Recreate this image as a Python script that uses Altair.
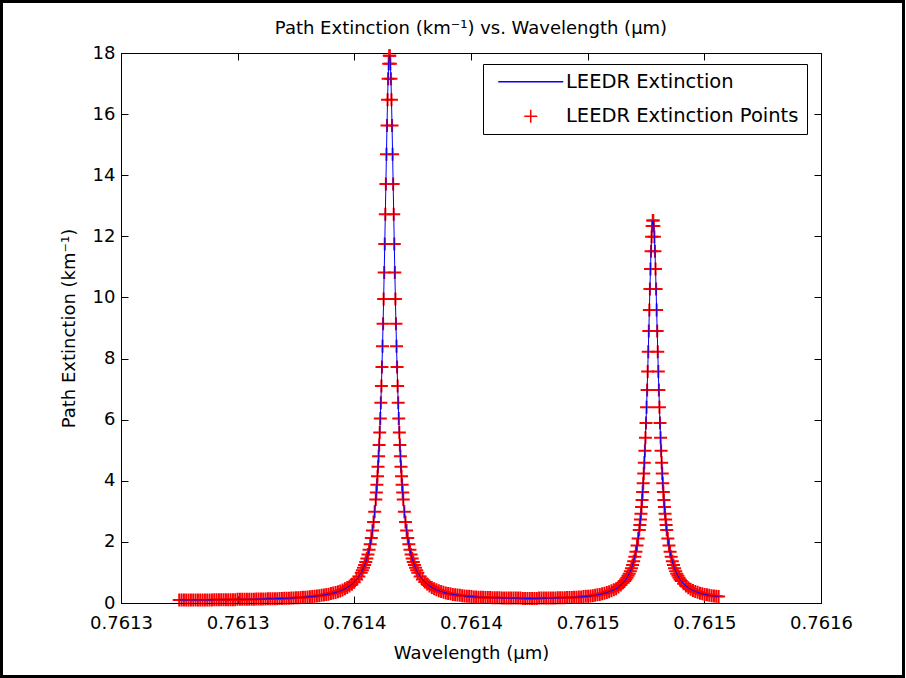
import altair as alt
import pandas as pd

FONT = "DejaVu Sans"

# ---------------- data (wavelength in micrometres, extinction in 1/km) ----------------
left_tail_wl = [
    0.76132496, 0.76132596, 0.76132696, 0.76132796, 0.76132896, 0.76132996, 0.76133096, 0.76133196, 0.76133296, 0.76133396,
    0.76133496, 0.76133596, 0.76133696, 0.76133796, 0.76133896, 0.76133996, 0.76134096, 0.76134196, 0.76134296, 0.76134396,
    0.76134496, 0.76134596, 0.76134696, 0.76134796, 0.76134896, 0.76134996, 0.76135096, 0.76135196, 0.76135296, 0.76135396,
    0.76135496, 0.76135596, 0.76135696, 0.76135796, 0.76135896, 0.76135996, 0.76136096, 0.76136196, 0.76136296, 0.76136396,
    0.76136496, 0.76136596, 0.76136696, 0.76136796, 0.76136896, 0.76136996, 0.76137096, 0.76137196, 0.76137296, 0.76137396,
    0.76137496, 0.76137596, 0.76137696, 0.76137796, 0.76137896, 0.76137996, 0.76138096, 0.76138196, 0.76138296, 0.76138396,
    0.76138496, 0.76138596, 0.76138696, 0.76138796, 0.76138896, 0.76138996, 0.76139096, 0.76139196, 0.76139296, 0.76139396,
    0.76139496, 0.76139596, 0.76139696, 0.76139796, 0.76139896, 0.76139996, 0.76140096, 0.76140196,
]
left_tail_ext = [
    0.10, 0.10, 0.10, 0.10, 0.10, 0.10, 0.10, 0.10, 0.10, 0.10,
    0.10, 0.10, 0.10, 0.10, 0.10, 0.11, 0.11, 0.11, 0.11, 0.11,
    0.11, 0.11, 0.11, 0.11, 0.11, 0.12, 0.12, 0.12, 0.12, 0.12,
    0.12, 0.12, 0.12, 0.13, 0.13, 0.13, 0.13, 0.13, 0.14, 0.14,
    0.140, 0.141, 0.143, 0.146, 0.149, 0.153, 0.155, 0.158, 0.162, 0.166,
    0.171, 0.175, 0.180, 0.185, 0.191, 0.199, 0.205, 0.213, 0.221, 0.230,
    0.240, 0.250, 0.262, 0.275, 0.290, 0.307, 0.325, 0.345, 0.369, 0.396,
    0.428, 0.463, 0.506, 0.554, 0.613, 0.682, 0.767, 0.869,
]

p1_left_wl = [0.76140296, 0.76140344, 0.76140392, 0.76140440, 0.76140488, 0.76140536, 0.76140584,
              0.76140632, 0.76140680, 0.76140728, 0.76140776, 0.76140824, 0.76140872]
p1_left_ext = [0.99, 1.07, 1.15, 1.24, 1.34, 1.46, 1.59, 1.74, 1.92, 2.13, 2.37, 2.65, 2.99]

p1_core_wl = [
    0.76140920, 0.76140944, 0.76140968, 0.76140992, 0.76141016, 0.76141040, 0.76141064, 0.76141088, 0.76141112, 0.76141136,
    0.76141160, 0.76141184, 0.76141208, 0.76141232, 0.76141256, 0.76141280, 0.76141304, 0.76141328, 0.76141352, 0.76141376,
    0.76141400, 0.76141424, 0.76141448, 0.76141472, 0.76141496, 0.76141520, 0.76141544, 0.76141568, 0.76141592, 0.76141616,
    0.76141640, 0.76141664, 0.76141688, 0.76141712, 0.76141736, 0.76141760, 0.76141784, 0.76141808, 0.76141832, 0.76141856,
    0.76141880, 0.76141904, 0.76141928, 0.76141952, 0.76141976, 0.76142000, 0.76142024, 0.76142048, 0.76142072, 0.76142096,
]
p1_core_ext = [
    3.39, 3.62, 3.87, 4.15, 4.46, 4.80, 5.17, 5.58, 6.04, 6.55,
    7.10, 7.72, 8.40, 9.14, 9.95, 10.82, 11.75, 12.72, 13.71, 14.69,
    15.63, 16.47, 17.16, 17.65, 17.91, 17.91, 17.65, 17.16, 16.47, 15.63,
    14.69, 13.71, 12.72, 11.75, 10.82, 9.95, 9.14, 8.40, 7.72, 7.10,
    6.55, 6.04, 5.58, 5.17, 4.80, 4.46, 4.15, 3.87, 3.62, 3.39,
]

p1_right_wl = [0.76142144, 0.76142192, 0.76142240, 0.76142288, 0.76142336, 0.76142384, 0.76142432,
               0.76142480, 0.76142528, 0.76142576, 0.76142624, 0.76142672, 0.76142720]
p1_right_ext = [2.99, 2.65, 2.37, 2.13, 1.92, 1.74, 1.59, 1.46, 1.34, 1.24, 1.15, 1.07, 0.99]

mid_wl = [
    0.76142820, 0.76142920, 0.76143020, 0.76143120, 0.76143220, 0.76143320, 0.76143420, 0.76143520, 0.76143620, 0.76143720,
    0.76143820, 0.76143920, 0.76144020, 0.76144120, 0.76144220, 0.76144320, 0.76144420, 0.76144520, 0.76144620, 0.76144720,
    0.76144820, 0.76144920, 0.76145020, 0.76145120, 0.76145220, 0.76145320, 0.76145420, 0.76145520, 0.76145620, 0.76145720,
    0.76145820, 0.76145920, 0.76146020, 0.76146120, 0.76146220, 0.76146320, 0.76146420, 0.76146520, 0.76146620, 0.76146720,
    0.76146820, 0.76146920, 0.76147020, 0.76147120, 0.76147220, 0.76147320, 0.76147420, 0.76147520, 0.76147620, 0.76147720,
    0.76147820, 0.76147920, 0.76148020, 0.76148120, 0.76148220, 0.76148320, 0.76148420, 0.76148520, 0.76148620, 0.76148720,
    0.76148820, 0.76148920, 0.76149020, 0.76149120, 0.76149220, 0.76149320, 0.76149420, 0.76149520, 0.76149620, 0.76149720,
    0.76149820, 0.76149920, 0.76150020, 0.76150120, 0.76150220, 0.76150320, 0.76150420, 0.76150520, 0.76150620, 0.76150720,
    0.76150820, 0.76150920, 0.76151020, 0.76151120, 0.76151220, 0.76151320, 0.76151420, 0.76151520,
]
mid_ext = [
    0.87, 0.77, 0.69, 0.62, 0.56, 0.51, 0.47, 0.43, 0.40, 0.38,
    0.35, 0.33, 0.31, 0.30, 0.28, 0.27, 0.26, 0.25, 0.24, 0.23,
    0.22, 0.22, 0.21, 0.20, 0.20, 0.19, 0.19, 0.19, 0.18, 0.18,
    0.18, 0.17, 0.17, 0.17, 0.17, 0.16, 0.16, 0.16, 0.16, 0.16,
    0.16, 0.16, 0.16, 0.16, 0.15, 0.15, 0.15, 0.15, 0.15, 0.15,
    0.15, 0.16, 0.16, 0.16, 0.16, 0.16, 0.16, 0.16, 0.16, 0.17,
    0.17, 0.17, 0.17, 0.18, 0.18, 0.18, 0.19, 0.19, 0.20, 0.20,
    0.21, 0.22, 0.22, 0.23, 0.24, 0.25, 0.27, 0.28, 0.30, 0.32,
    0.34, 0.37, 0.40, 0.43, 0.47, 0.52, 0.59, 0.66,
]

p2_left_wl = [0.76151588, 0.76151636, 0.76151684, 0.76151732, 0.76151780, 0.76151828, 0.76151876,
              0.76151924, 0.76151972, 0.76152020, 0.76152068, 0.76152116, 0.76152164]
p2_left_ext = [0.72, 0.77, 0.83, 0.89, 0.96, 1.04, 1.14, 1.24, 1.37, 1.51, 1.68, 1.88, 2.11]

p2_core_wl = [
    0.76152212, 0.76152236, 0.76152260, 0.76152284, 0.76152308, 0.76152332, 0.76152356, 0.76152380, 0.76152404, 0.76152428,
    0.76152452, 0.76152476, 0.76152500, 0.76152524, 0.76152548, 0.76152572, 0.76152596, 0.76152620, 0.76152644, 0.76152668,
    0.76152692, 0.76152716, 0.76152740, 0.76152764, 0.76152788, 0.76152812, 0.76152836, 0.76152860, 0.76152884, 0.76152908,
    0.76152932, 0.76152956, 0.76152980, 0.76153004, 0.76153028, 0.76153052, 0.76153076, 0.76153100, 0.76153124, 0.76153148,
    0.76153172, 0.76153196, 0.76153220, 0.76153244, 0.76153268, 0.76153292, 0.76153316, 0.76153340, 0.76153364, 0.76153388,
]
p2_core_ext = [
    2.39, 2.55, 2.73, 2.92, 3.14, 3.37, 3.63, 3.92, 4.24, 4.59,
    4.98, 5.41, 5.89, 6.41, 6.97, 7.58, 8.22, 8.90, 9.59, 10.28,
    10.93, 11.51, 11.99, 12.34, 12.52, 12.52, 12.34, 11.99, 11.51, 10.93,
    10.28, 9.59, 8.90, 8.22, 7.58, 6.97, 6.41, 5.89, 5.41, 4.98,
    4.59, 4.24, 3.92, 3.63, 3.37, 3.14, 2.92, 2.73, 2.55, 2.39,
]

p2_right_wl = [0.76153436, 0.76153484, 0.76153532, 0.76153580, 0.76153628, 0.76153676, 0.76153724,
               0.76153772, 0.76153820, 0.76153868, 0.76153916, 0.76153964, 0.76154012]
p2_right_ext = [2.11, 1.88, 1.68, 1.51, 1.37, 1.24, 1.14, 1.04, 0.96, 0.89, 0.83, 0.77, 0.72]

right_tail_wl = [0.76154112, 0.76154212, 0.76154312, 0.76154412, 0.76154512, 0.76154612, 0.76154712, 0.76154812,
                 0.76154912, 0.76155012, 0.76155112, 0.76155212, 0.76155312, 0.76155412, 0.76155512, 0.76155612]
right_tail_ext = [0.63, 0.56, 0.50, 0.45, 0.41, 0.38, 0.35, 0.32, 0.30, 0.28, 0.27, 0.25, 0.24, 0.23, 0.22, 0.21]

x_ticks = [0.7613, 0.76135, 0.7614, 0.76145, 0.7615, 0.76155, 0.7616]
x_tick_labels = ["0.7613", "0.7613", "0.7614", "0.7614", "0.7615", "0.7615", "0.7616"]
y_ticks = [0, 2, 4, 6, 8, 10, 12, 14, 16, 18]

series_names = ["LEEDR Extinction", "LEEDR Extinction Points"]
series_colors = ["#0000ff", "#ff0000"]
series_shapes = ["M-5,0L5,0", "M-1,0L1,0M0,-1L0,1"]

# ---------------- assemble ----------------
wavelength = (left_tail_wl + p1_left_wl + p1_core_wl + p1_right_wl + mid_wl
              + p2_left_wl + p2_core_wl + p2_right_wl + right_tail_wl)
extinction = (left_tail_ext + p1_left_ext + p1_core_ext + p1_right_ext + mid_ext
              + p2_left_ext + p2_core_ext + p2_right_ext + right_tail_ext)
assert len(wavelength) == len(extinction)

df = pd.DataFrame({"wavelength": wavelength, "extinction": extinction,
                   "series": series_names[1]})

label_expr = " : ".join(
    f"abs(datum.value - {v}) < 1e-9 ? '{l}'" for v, l in zip(x_ticks, x_tick_labels)
) + " : ''"

x_scale = alt.Scale(domain=[0.7613, 0.7616], nice=False, zero=False)
y_scale = alt.Scale(domain=[0, 18], nice=False, zero=False)

legend = alt.Legend(
    title=None, orient="none", legendX=362, legendY=11, direction="vertical",
    strokeColor="black", fillColor="white", padding=8,
    labelFont=FONT, labelFontSize=19.5, labelColor="black", labelLimit=400,
    symbolSize=169, symbolStrokeWidth=1.5, symbolOffset=30, labelOffset=25.5,
    rowPadding=13.5,
)

# outer figure frame
border = alt.Chart(alt.Data(values=[{}])).mark_rect(
    fillOpacity=0, stroke="black", strokeWidth=3
).encode(
    x=alt.value(-119.5), x2=alt.value(782.5), y=alt.value(-51.5), y2=alt.value(623.5)
)

# axis lines drawn above data (bottom / left)
axis_lines = alt.Chart(df).mark_line(strokeOpacity=0).encode(
    x=alt.X("wavelength:Q", scale=x_scale,
            axis=alt.Axis(orient="bottom", domain=True, ticks=False, labels=False,
                          grid=False, title=None, zindex=1, domainColor="black", domainWidth=1)),
    y=alt.Y("extinction:Q", scale=y_scale,
            axis=alt.Axis(orient="left", domain=True, ticks=False, labels=False,
                          grid=False, title=None, zindex=1, domainColor="black", domainWidth=1)),
)

points = alt.Chart(df).mark_point(
    filled=False, size=169, strokeWidth=2, opacity=1
).encode(
    x=alt.X("wavelength:Q", scale=x_scale,
            axis=alt.Axis(orient="bottom", offset=-7, values=x_ticks, labelExpr=label_expr,
                          labelFlush=False, tickSize=7, domain=False, grid=False, labelPadding=11,
                          title="Wavelength (µm)", titleY=62, titleBaseline="alphabetic")),
    y=alt.Y("extinction:Q", scale=y_scale,
            axis=alt.Axis(orient="left", offset=-7, values=y_ticks, format="d",
                          labelFlush=False, tickSize=7, domain=False, grid=False, labelPadding=6,
                          title="Path Extinction (km⁻¹)", titleX=-54, titleY=275,
                          titleAngle=270, titleBaseline="alphabetic", titleAlign="center")),
    color=alt.Color("series:N", scale=alt.Scale(domain=series_names, range=series_colors), legend=legend),
    shape=alt.Shape("series:N", scale=alt.Scale(domain=series_names, range=series_shapes), legend=legend),
)

line = alt.Chart(df).mark_line(color="#0000ff", strokeWidth=1).encode(
    x=alt.X("wavelength:Q", scale=x_scale,
            axis=alt.Axis(orient="top", offset=-7, values=x_ticks, labels=False,
                          tickSize=7, domain=False, grid=False, title=None)),
    y=alt.Y("extinction:Q", scale=y_scale,
            axis=alt.Axis(orient="right", offset=-7, values=y_ticks, labels=False,
                          tickSize=7, domain=False, grid=False, title=None)),
)

chart = alt.layer(border, axis_lines, points, line).resolve_axis(
    x="independent", y="independent"
).properties(
    width=700, height=550,
    padding={"left": 121, "top": 53, "right": 85, "bottom": 75},
    autosize=alt.AutoSizeParams(type="none"),
    background="white",
    title=alt.TitleParams(
        text="Path Extinction (km⁻¹) vs. Wavelength (µm)", font=FONT, fontSize=18,
        fontWeight="normal", color="black", anchor="middle", frame="group", offset=-38,
    ),
).configure_view(
    stroke="black", strokeWidth=1
).configure_axis(
    labelFont=FONT, labelFontSize=18, labelColor="black",
    titleFont=FONT, titleFontSize=18, titleFontWeight="normal", titleColor="black",
    tickColor="black", tickWidth=1,
)

chart.save("out.html", embed_options={"renderer": "svg", "actions": False})
